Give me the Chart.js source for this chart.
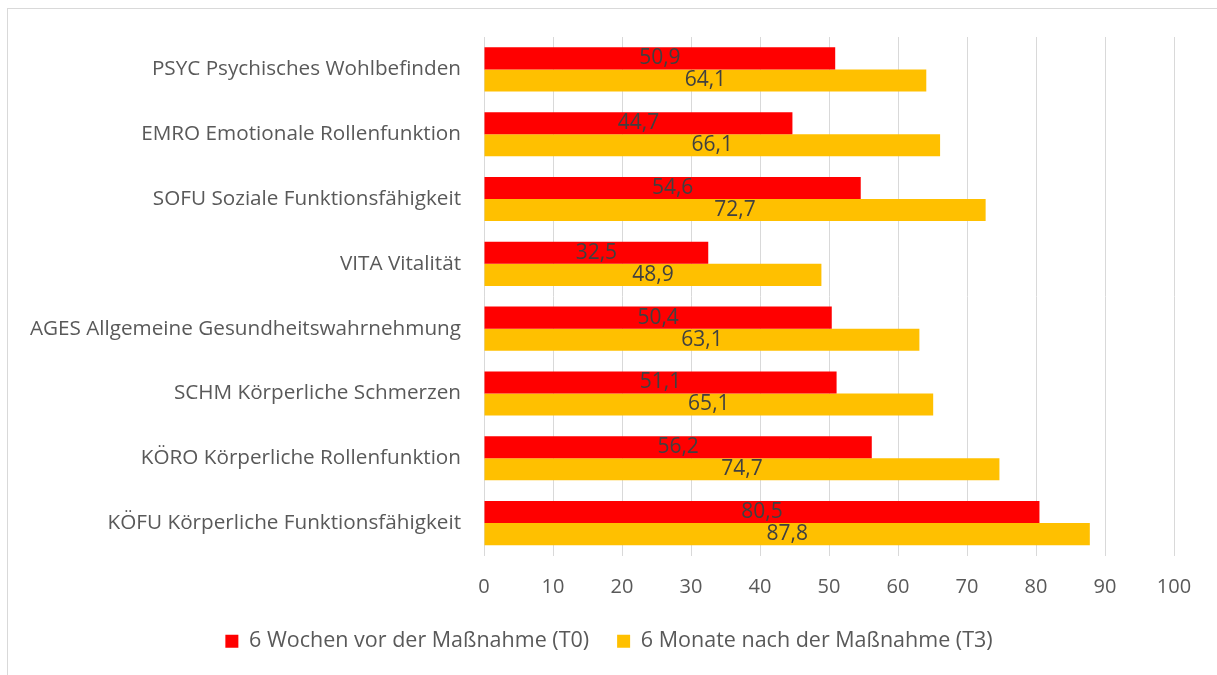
<!DOCTYPE html>
<html>
<head>
<meta charset="utf-8">
<script src="https://cdn.jsdelivr.net/npm/chart.js@4.4.1/dist/chart.umd.min.js"></script>
<style>
  body { margin: 0; background: #fff; overflow: hidden; }
  #frame { position: absolute; left: 7px; top: 8px; width: 1240px; height: 700px; border: 1px solid #d9d9d9; }
  #wrap { position: absolute; left: 0; top: 0; width: 1217px; height: 675px; }
</style>
</head>
<body>
<div id="frame"></div>
<div id="wrap"><canvas id="chart" width="1217" height="675"></canvas></div>
<script>
// categories from top to bottom
const categories = [
  'PSYC Psychisches Wohlbefinden',
  'EMRO Emotionale Rollenfunktion',
  'SOFU Soziale Funktionsfähigkeit',
  'VITA Vitalität',
  'AGES Allgemeine Gesundheitswahrnehmung',
  'SCHM Körperliche Schmerzen',
  'KÖRO Körperliche Rollenfunktion',
  'KÖFU Körperliche Funktionsfähigkeit'
];
const seriesNames = ['6 Wochen vor der Maßnahme (T0)', '6 Monate nach der Maßnahme (T3)'];
const valuesT0 = [50.9, 44.7, 54.6, 32.5, 50.4, 51.1, 56.2, 80.5];
const valuesT3 = [64.1, 66.1, 72.7, 48.9, 63.1, 65.1, 74.7, 87.8];
const xTicks = [0, 10, 20, 30, 40, 50, 60, 70, 80, 90, 100];

const FONT = '"Open Sans", Lato, sans-serif';

// draws the value in the middle of each bar
const barLabels = {
  id: 'barLabels',
  afterDatasetsDraw(chart) {
    const ctx = chart.ctx;
    ctx.save();
    ctx.font = '21px ' + FONT;
    ctx.fillStyle = '#404040';
    ctx.textAlign = 'center';
    ctx.textBaseline = 'middle';
    chart.data.datasets.forEach((ds, i) => {
      chart.getDatasetMeta(i).data.forEach((bar, j) => {
        const x = (bar.x + bar.base) / 2;
        ctx.fillText(ds.data[j].toFixed(1).replace('.', ','), x, bar.y);
      });
    });
    ctx.restore();
  }
};

// legend in the original sits centred on the whole frame, not the padded box
const legendShift = {
  id: 'legendShift',
  afterLayout(chart) {
    chart.legend.left += 22;
    chart.legend.right += 22;
  }
};

new Chart(document.getElementById('chart'), {
  type: 'bar',
  data: {
    labels: categories,
    datasets: [
      { label: seriesNames[0], data: valuesT0, backgroundColor: '#FF0000', categoryPercentage: 0.68, barPercentage: 1.0 },
      { label: seriesNames[1], data: valuesT3, backgroundColor: '#FFC000', categoryPercentage: 0.68, barPercentage: 1.0 }
    ]
  },
  options: {
    indexAxis: 'y',
    responsive: false,
    animation: false,
    layout: { padding: { top: 37, right: 43, bottom: 13, left: 0 } },
    scales: {
      x: {
        min: 0,
        max: 100,
        afterBuildTicks: axis => { axis.ticks = xTicks.map(v => ({ value: v })); },
        grid: { color: '#d9d9d9', lineWidth: 1, drawTicks: false },
        border: { display: false },
        ticks: { color: '#595959', font: { family: FONT, size: 20 }, padding: 20 },
        afterFit: axis => { axis.height = 47; }
      },
      y: {
        grid: { display: false, drawTicks: false },
        border: { display: true, color: '#d9d9d9' },
        ticks: { color: '#595959', font: { family: FONT, size: 20.7 }, padding: 23 },
        afterFit: axis => { axis.width = 484; }
      }
    },
    plugins: {
      legend: {
        position: 'bottom',
        labels: {
          color: '#595959',
          font: { family: FONT, size: 21.5 },
          boxWidth: 13,
          boxHeight: 13,
          padding: 28
        }
      },
      tooltip: { enabled: false }
    }
  },
  plugins: [barLabels, legendShift]
});
</script>
</body>
</html>
